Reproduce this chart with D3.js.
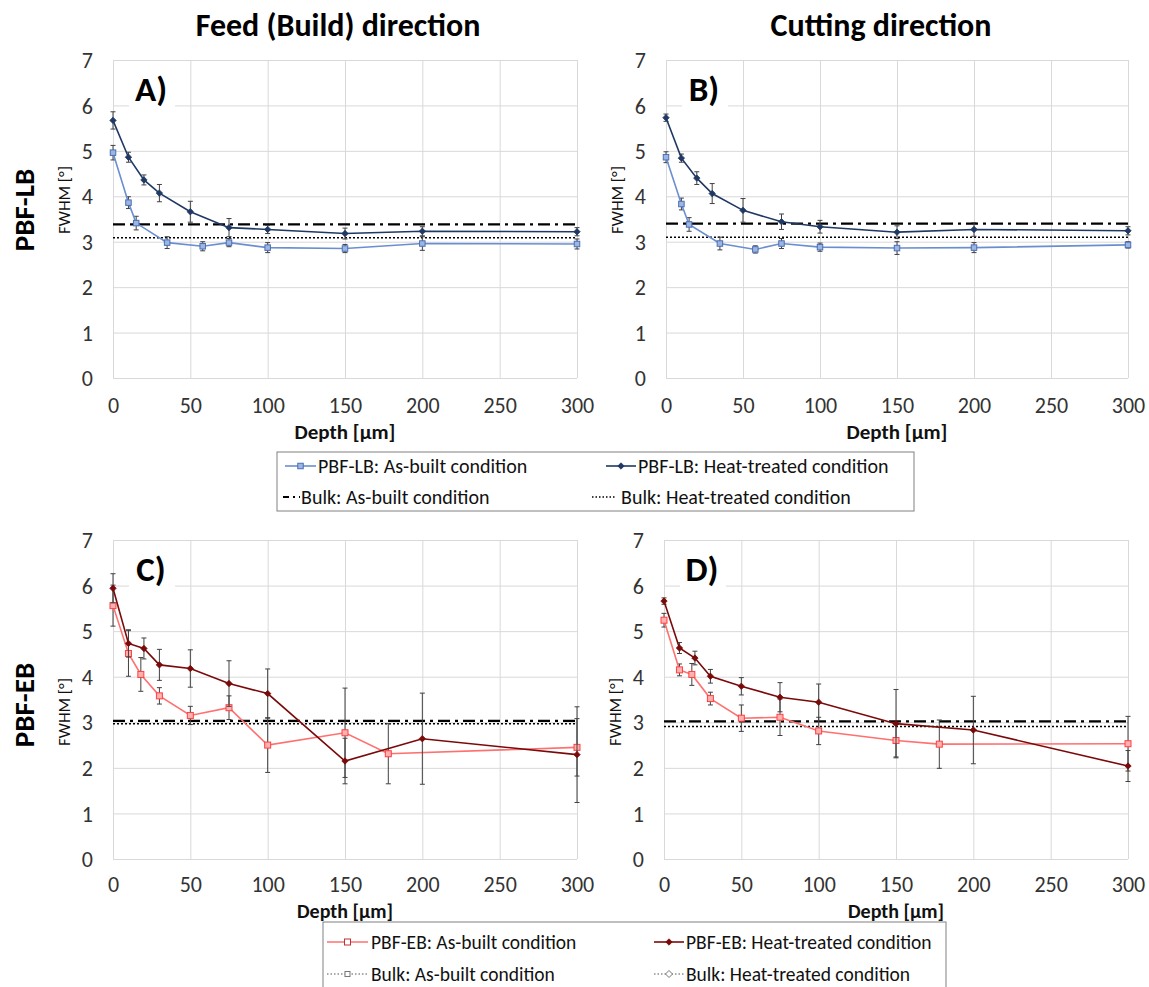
<!DOCTYPE html>
<html>
<head>
<meta charset="utf-8">
<script src="https://cdn.jsdelivr.net/npm/d3@7/dist/d3.min.js"></script>
<style>
  html, body { margin: 0; padding: 0; background: #fff; }
  svg { display: block; }
  text { font-family: Carlito, Calibri, Lato, "Open Sans", sans-serif; }
</style>
</head>
<body>
<svg id="chart" width="1149" height="987"></svg>
<script>
// ---------------- DATA ----------------
const xTicks = [0, 50, 100, 150, 200, 250, 300];
const yTicks = [0, 1, 2, 3, 4, 5, 6, 7];

// Panel A: PBF-LB, feed (build) direction
const A_asBuilt_depth = [0, 10, 15, 35, 58, 75, 100, 150, 200, 300];
const A_asBuilt_fwhm  = [4.96, 3.86, 3.41, 2.98, 2.90, 2.98, 2.87, 2.85, 2.96, 2.95];
const A_asBuilt_err   = [0.16, 0.13, 0.15, 0.13, 0.10, 0.09, 0.11, 0.09, 0.15, 0.11];
const A_heat_depth    = [0, 10, 20, 30, 50, 75, 100, 150, 200, 300];
const A_heat_fwhm     = [5.67, 4.86, 4.36, 4.07, 3.66, 3.31, 3.27, 3.18, 3.23, 3.22];
const A_heat_err      = [0.19, 0.11, 0.11, 0.19, 0.23, 0.20, 0.09, 0.12, 0.10, 0.09];
const A_bulk = [3.38, 3.09];   // [as-built, heat-treated]

// Panel B: PBF-LB, cutting direction
const B_asBuilt_depth = [0, 10, 15, 35, 58, 75, 100, 150, 200, 300];
const B_asBuilt_fwhm  = [4.86, 3.83, 3.38, 2.96, 2.83, 2.96, 2.88, 2.86, 2.87, 2.93];
const B_asBuilt_err   = [0.12, 0.13, 0.15, 0.14, 0.08, 0.11, 0.09, 0.14, 0.11, 0.07];
const B_heat_depth    = [0, 10, 20, 30, 50, 75, 100, 150, 200, 300];
const B_heat_fwhm     = [5.73, 4.84, 4.40, 4.06, 3.69, 3.44, 3.33, 3.21, 3.27, 3.24];
const B_heat_err      = [0.08, 0.09, 0.14, 0.22, 0.26, 0.17, 0.14, 0.14, 0.15, 0.09];
const B_bulk = [3.40, 3.10];

// Panel C: PBF-EB, feed (build) direction
const C_asBuilt_depth = [0, 10, 18, 30, 50, 75, 100, 150, 178, 300];
const C_asBuilt_fwhm  = [5.56, 4.51, 4.05, 3.58, 3.15, 3.32, 2.50, 2.77, 2.31, 2.45];
const C_asBuilt_err   = [0.45, 0.50, 0.37, 0.18, 0.20, 0.26, 0.60, 0.98, 0.66, 0.63];
const C_heat_depth    = [0, 10, 20, 30, 50, 75, 100, 150, 200, 300];
const C_heat_fwhm     = [5.94, 4.73, 4.62, 4.26, 4.18, 3.85, 3.63, 2.15, 2.64, 2.29];
const C_heat_err      = [0.32, 0.30, 0.23, 0.34, 0.41, 0.50, 0.54, 0.50, 1.00, 1.05];
const C_bulk = [3.03, 2.97];

// Panel D: PBF-EB, cutting direction
const D_asBuilt_depth = [0, 10, 18, 30, 50, 75, 100, 150, 178, 300];
const D_asBuilt_fwhm  = [5.24, 4.15, 4.05, 3.52, 3.09, 3.11, 2.81, 2.60, 2.52, 2.53];
const D_asBuilt_err   = [0.15, 0.13, 0.24, 0.14, 0.29, 0.40, 0.30, 0.36, 0.53, 0.60];
const D_heat_depth    = [0, 10, 20, 30, 50, 75, 100, 150, 200, 300];
const D_heat_fwhm     = [5.66, 4.63, 4.41, 4.01, 3.79, 3.55, 3.44, 2.97, 2.83, 2.04];
const D_heat_err      = [0.07, 0.12, 0.15, 0.15, 0.19, 0.32, 0.40, 0.75, 0.74, 0.34];
const D_bulk = [3.02, 2.91];

const columnTitles = ["Feed (Build) direction", "Cutting direction"];
const rowTitles = ["PBF-LB", "PBF-EB"];
const panelLabels = ["A)", "B)", "C)", "D)"];
const legendLB = ["PBF-LB: As-built condition", "PBF-LB: Heat-treated condition",
                  "Bulk: As-built condition", "Bulk: Heat-treated condition"];
const legendEB = ["PBF-EB: As-built condition", "PBF-EB: Heat-treated condition",
                  "Bulk: As-built condition", "Bulk: Heat-treated condition"];

// ---------------- STYLE / LAYOUT ----------------
const COL = {
  lbLight: "#6a8fd0", lbLightFill: "#9db5e3", lbLightStroke: "#4a6fb5",
  lbDark: "#1f3864",
  ebLight: "#ff7070", ebLightFill: "#ffb0b0",
  ebDark: "#7a0a0a",
  grid: "#d9d9d9", err: "#404040", text: "#333333"
};

const panels = [
  { x0: 113, x1: 577, y0: 60, y1: 378, fwhmY: 200, tickDy: 35, depthDy: 61, depthFs: 21, kind: "LB",
    ab: [A_asBuilt_depth, A_asBuilt_fwhm, A_asBuilt_err], ht: [A_heat_depth, A_heat_fwhm, A_heat_err], bulk: A_bulk },
  { x0: 666, x1: 1128, y0: 60, y1: 378, fwhmY: 200, tickDy: 35, depthDy: 61, depthFs: 21, kind: "LB",
    ab: [B_asBuilt_depth, B_asBuilt_fwhm, B_asBuilt_err], ht: [B_heat_depth, B_heat_fwhm, B_heat_err], bulk: B_bulk },
  { x0: 113, x1: 577, y0: 540, y1: 859, fwhmY: 712, tickDy: 33, depthDy: 59, depthFs: 20, kind: "EB",
    ab: [C_asBuilt_depth, C_asBuilt_fwhm, C_asBuilt_err], ht: [C_heat_depth, C_heat_fwhm, C_heat_err], bulk: C_bulk },
  { x0: 664, x1: 1128, y0: 540, y1: 859, fwhmY: 712, tickDy: 33, depthDy: 59, depthFs: 20, kind: "EB",
    ab: [D_asBuilt_depth, D_asBuilt_fwhm, D_asBuilt_err], ht: [D_heat_depth, D_heat_fwhm, D_heat_err], bulk: D_bulk }
];

const svg = d3.select("#chart");
const legendLayer = svg.append("g");
const mainLayer = svg.append("g");

function squareMarker(g, x, y, s, fill, stroke) {
  g.append("rect").attr("x", x - s / 2).attr("y", y - s / 2).attr("width", s).attr("height", s)
    .attr("fill", fill).attr("stroke", stroke).attr("stroke-width", 1);
}
function diamondMarker(g, x, y, s, fill) {
  g.append("path").attr("d", `M${x},${y - s}L${x + s},${y}L${x},${y + s}L${x - s},${y}Z`)
    .attr("fill", fill).attr("stroke", fill).attr("stroke-width", 0.8);
}

panels.forEach((p, i) => {
  const x = d3.scaleLinear().domain([0, 300]).range([p.x0, p.x1]);
  const y = d3.scaleLinear().domain([0, 7]).range([p.y1, p.y0]);
  const g = mainLayer.append("g");

  // grid
  g.append("g").attr("transform", `translate(0,${p.y1})`)
    .call(d3.axisBottom(x).tickValues(xTicks).tickSize(-(p.y1 - p.y0)).tickFormat(""))
    .call(a => a.select(".domain").remove())
    .call(a => a.selectAll("line").attr("stroke", COL.grid));
  g.append("g").attr("transform", `translate(${p.x0},0)`)
    .call(d3.axisLeft(y).tickValues(yTicks).tickSize(-(p.x1 - p.x0)).tickFormat(""))
    .call(a => a.select(".domain").remove())
    .call(a => a.selectAll("line").attr("stroke", COL.grid));

  // tick labels
  const xl = g.append("g").attr("transform", `translate(0,${p.y1 + p.tickDy})`)
    .call(d3.axisBottom(x).tickValues(xTicks).tickSize(0).tickPadding(0).tickFormat(d3.format("d")));
  xl.select(".domain").remove();
  xl.selectAll("text").attr("font-size", 22).attr("fill", COL.text).attr("dy", 0)
    .style("font-family", "Carlito, Calibri, Lato, sans-serif");
  const yl = g.append("g").attr("transform", `translate(${p.x0 - 20},0)`)
    .call(d3.axisLeft(y).tickValues(yTicks).tickSize(0).tickPadding(0).tickFormat(d3.format("d")));
  yl.select(".domain").remove();
  yl.selectAll("text").attr("font-size", 22).attr("fill", COL.text).attr("dy", "0.35em")
    .style("font-family", "Carlito, Calibri, Lato, sans-serif");

  // axis titles
  g.append("text").attr("x", (p.x0 + p.x1) / 2).attr("y", p.y1 + p.depthDy)
    .attr("text-anchor", "middle").attr("font-size", p.depthFs).attr("font-weight", "bold").attr("fill", "#111")
    .text("Depth [µm]");
  g.append("text").attr("transform", `translate(${p.x0 - 43},${p.fwhmY}) rotate(-90)`)
    .attr("text-anchor", "middle").attr("font-size", 17).attr("fill", "#111")
    .text("FWHM [°]");

  // panel label with white box
  g.append("rect").attr("x", p.x0 + 16).attr("y", p.y0 + 8).attr("width", 46).attr("height", 42).attr("fill", "#fff");
  g.append("text").attr("x", p.x0 + 38).attr("y", p.y0 + 41).attr("text-anchor", "middle")
    .attr("font-size", 35).attr("font-weight", "bold").attr("fill", "#000").text(panelLabels[i]);

  // bulk reference lines
  g.append("line").attr("x1", p.x0).attr("x2", p.x1).attr("y1", y(p.bulk[0])).attr("y2", y(p.bulk[0]))
    .attr("stroke", "#000").attr("stroke-width", 2.2).attr("stroke-dasharray", "12,5,3,5");
  g.append("line").attr("x1", p.x0).attr("x2", p.x1).attr("y1", y(p.bulk[1])).attr("y2", y(p.bulk[1]))
    .attr("stroke", "#000").attr("stroke-width", 1.5).attr("stroke-dasharray", "2,2");

  const isLB = p.kind === "LB";
  const series = [
    { d: p.ab, color: isLB ? COL.lbLight : COL.ebLight, type: "square" },
    { d: p.ht, color: isLB ? COL.lbDark : COL.ebDark, type: "diamond" }
  ];
  series.forEach(s => {
    const [dx, dy, de] = s.d;
    const pts = dx.map((v, k) => ({ x: v, y: dy[k], e: de[k] }));
    // error bars
    const eg = g.append("g").attr("stroke", COL.err).attr("stroke-width", 1);
    pts.forEach(pt => {
      const cx = x(pt.x), yt = y(pt.y + pt.e), yb = y(pt.y - pt.e);
      eg.append("line").attr("x1", cx).attr("x2", cx).attr("y1", yt).attr("y2", yb);
      eg.append("line").attr("x1", cx - 2.5).attr("x2", cx + 2.5).attr("y1", yt).attr("y2", yt);
      eg.append("line").attr("x1", cx - 2.5).attr("x2", cx + 2.5).attr("y1", yb).attr("y2", yb);
    });
    // line
    g.append("path").datum(pts)
      .attr("d", d3.line().x(d => x(d.x)).y(d => y(d.y)))
      .attr("fill", "none").attr("stroke", s.color).attr("stroke-width", 1.6);
    // markers
    const mg = g.append("g");
    pts.forEach(pt => {
      if (s.type === "square") {
        if (isLB) squareMarker(mg, x(pt.x), y(pt.y), 5.5, COL.lbLightFill, COL.lbLightStroke);
        else squareMarker(mg, x(pt.x), y(pt.y), 6, COL.ebLightFill, "#ff4040");
      } else {
        diamondMarker(mg, x(pt.x), y(pt.y), 3.2, s.color);
      }
    });
  });
});

// column & row titles
mainLayer.append("text").attr("x", 338).attr("y", 36).attr("text-anchor", "middle")
  .attr("font-size", 32).attr("font-weight", "bold").attr("fill", "#000").text(columnTitles[0]);
mainLayer.append("text").attr("x", 881).attr("y", 36).attr("text-anchor", "middle")
  .attr("font-size", 32).attr("font-weight", "bold").attr("fill", "#000").text(columnTitles[1]);
mainLayer.append("text").attr("transform", "translate(34,210) rotate(-90)").attr("text-anchor", "middle")
  .attr("font-size", 29).attr("font-weight", "bold").attr("fill", "#000").text(rowTitles[0]);
mainLayer.append("text").attr("transform", "translate(34,705) rotate(-90)").attr("text-anchor", "middle")
  .attr("font-size", 29).attr("font-weight", "bold").attr("fill", "#000").text(rowTitles[1]);

// ---------------- LEGENDS ----------------
function legend(box, rows, kind, fs) {
  const g = legendLayer.append("g");
  g.append("rect").attr("x", box.x).attr("y", box.y).attr("width", box.w).attr("height", box.h)
    .attr("fill", "#fff").attr("stroke", "#808080").attr("stroke-width", 1);
  rows.forEach(r => {
    const cy = r.y;
    if (r.sym === "line-square" || r.sym === "line-diamond") {
      g.append("line").attr("x1", r.sx0).attr("x2", r.sx1).attr("y1", cy).attr("y2", cy)
        .attr("stroke", r.color).attr("stroke-width", 1.6);
      const mx = (r.sx0 + r.sx1) / 2;
      if (r.sym === "line-square") {
        if (kind === "LB") squareMarker(g, mx, cy, 5.5, COL.lbLightFill, COL.lbLightStroke);
        else squareMarker(g, mx, cy, 6, "#fff", "#c03030");
      } else diamondMarker(g, mx, cy, 3.2, r.color);
    } else if (r.sym === "dashdot") {
      g.append("line").attr("x1", r.sx0).attr("x2", r.sx1).attr("y1", cy).attr("y2", cy)
        .attr("stroke", "#000").attr("stroke-width", 2).attr("stroke-dasharray", "6,4,2,4,2,4");
    } else if (r.sym === "dot") {
      g.append("line").attr("x1", r.sx0).attr("x2", r.sx1).attr("y1", cy).attr("y2", cy)
        .attr("stroke", "#000").attr("stroke-width", 1.3).attr("stroke-dasharray", "1.5,2");
    } else if (r.sym === "dot-square" || r.sym === "dot-diamond") {
      g.append("line").attr("x1", r.sx0).attr("x2", r.sx1).attr("y1", cy).attr("y2", cy)
        .attr("stroke", "#555").attr("stroke-width", 1.2).attr("stroke-dasharray", "1.5,2");
      const mx = (r.sx0 + r.sx1) / 2;
      if (r.sym === "dot-square") squareMarker(g, mx, cy, 5, "#fff", "#777");
      else g.append("path").attr("d", `M${mx},${cy - 3.5}L${mx + 3.5},${cy}L${mx},${cy + 3.5}L${mx - 3.5},${cy}Z`)
        .attr("fill", "#fff").attr("stroke", "#777");
    }
    g.append("text").attr("x", r.tx).attr("y", cy).attr("dy", "0.35em")
      .attr("font-size", fs).attr("fill", "#111").text(r.label);
  });
}

legend({ x: 277, y: 452, w: 637, h: 59 }, [
  { y: 466, sym: "line-square", color: COL.lbLight, sx0: 285, sx1: 316, tx: 318, label: legendLB[0] },
  { y: 466, sym: "line-diamond", color: COL.lbDark, sx0: 606, sx1: 636, tx: 638, label: legendLB[1] },
  { y: 497, sym: "dashdot", sx0: 283, sx1: 300, tx: 301, label: legendLB[2] },
  { y: 497, sym: "dot", sx0: 592, sx1: 616, tx: 621, label: legendLB[3] }
], "LB", 20);

legend({ x: 323, y: 922, w: 623, h: 80 }, [
  { y: 942, sym: "line-square", color: COL.ebLight, sx0: 327, sx1: 368, tx: 371, label: legendEB[0] },
  { y: 942, sym: "line-diamond", color: COL.ebDark, sx0: 654, sx1: 684, tx: 686, label: legendEB[1] },
  { y: 974, sym: "dot-square", sx0: 327, sx1: 368, tx: 371, label: legendEB[2] },
  { y: 974, sym: "dot-diamond", sx0: 654, sx1: 684, tx: 686, label: legendEB[3] }
], "EB", 19.5);
</script>
</body>
</html>
